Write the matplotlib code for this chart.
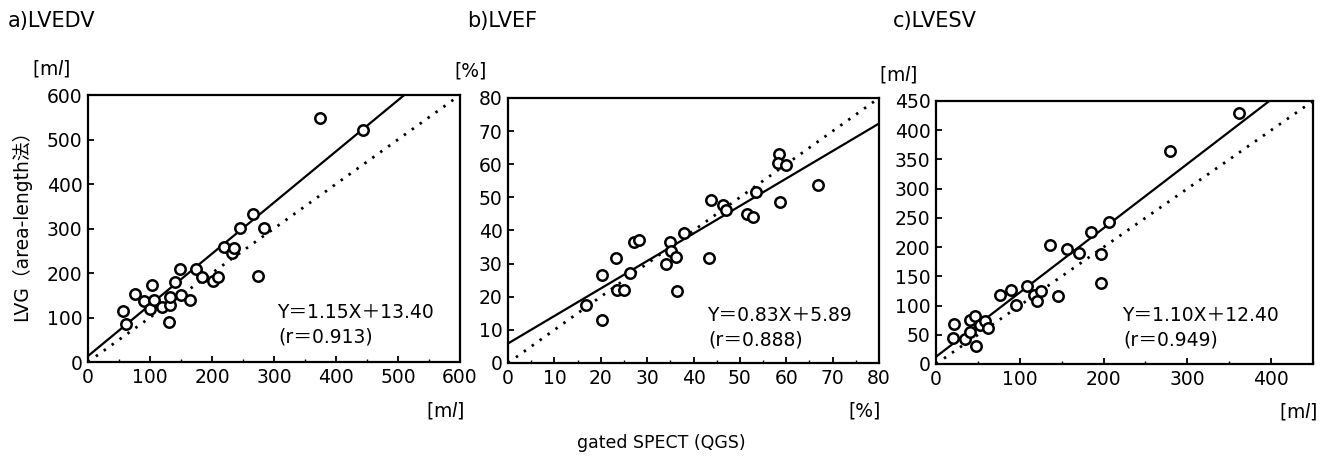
import numpy as np
import matplotlib.pyplot as plt

plt.rcParams['font.family'] = ['DejaVu Sans', 'Noto Sans CJK JP']

# -----------------------------
# Data
# -----------------------------
# a) LVEDV [ml]
edv_x = [56, 62, 76, 90, 103, 100, 106, 120, 130, 133, 133, 141, 148, 150, 165,
         174, 184, 201, 209, 220, 233, 236, 245, 266, 274, 284, 374, 444]
edv_y = [115, 86, 152, 137, 173, 120, 140, 124, 90, 128, 145, 180, 209, 150, 140,
         209, 191, 182, 191, 259, 245, 257, 302, 332, 193, 302, 549, 521]
edv_fit = (1.15, 13.40)
edv_r = 0.913

# b) LVEF [%]
ef_x = [16.9, 20.2, 20.2, 23.2, 23.4, 25.1, 26.2, 27.1, 28.2, 34.1, 35.0, 35.1, 36.3,
        36.5, 37.9, 43.4, 43.8, 46.4, 46.9, 51.6, 52.9, 53.4, 58.4, 58.2, 60.0, 58.6, 66.8]
ef_y = [17.4, 26.7, 13.1, 31.7, 22.1, 21.9, 27.2, 36.4, 37.2, 30.0, 36.4, 33.7, 32.0,
        21.6, 39.2, 31.7, 49.1, 47.8, 46.3, 45.1, 44.1, 51.6, 63.1, 60.4, 59.9, 48.6, 53.6]
ef_fit = (0.83, 5.89)
ef_r = 0.888

# c) LVESV [ml]
esv_x = [22, 20, 35, 40, 41, 46, 48, 52, 59, 62, 76, 89, 95, 108, 117, 121, 125,
         146, 136, 156, 171, 185, 197, 197, 206, 279, 361]
esv_y = [68, 44, 42, 75, 55, 82, 31, 67, 74, 62, 118, 126, 101, 134, 118, 107, 125,
         117, 203, 197, 190, 225, 189, 139, 243, 364, 429]
esv_fit = (1.10, 12.40)
esv_r = 0.949

unit_ml = r'[m$\mathit{l}$]'

panels = [
    # title, x, y, fit, r, xmax, xstep, ymax, ystep, unit, axes rect, title x, eq pos
    ('a)LVEDV', edv_x, edv_y, edv_fit, edv_r, 600, 100, 600, 100, unit_ml,
     [0.0665, 0.2113, 0.2812, 0.5817], 0.006, (0.508, 0.187)),
    ('b)LVEF', ef_x, ef_y, ef_fit, ef_r, 80, 10, 80, 10, '[%]',
     [0.384, 0.2092, 0.2804, 0.5773], 0.353, (0.536, 0.18)),
    ('c)LVESV', esv_x, esv_y, esv_fit, esv_r, 450, 100, 450, 50, unit_ml,
     [0.7075, 0.207, 0.285, 0.573], 0.675, (0.493, 0.186)),
]

fig = plt.figure(figsize=(13.23, 4.59), dpi=100)

for (title, xs, ys, fit, r, xmax, xstep, ymax, ystep, unit,
     rect, tx, eqpos) in panels:
    ax = fig.add_axes(rect)
    ax.set_xlim(0, xmax)
    ax.set_ylim(0, ymax)

    # identity line (dotted) and regression line (solid)
    xx = np.array([0, xmax])
    ax.plot(xx, xx, color='black', lw=2.0, linestyle=(0, (0.9, 2.6)))
    ax.plot(xx, fit[0] * xx + fit[1], color='black', lw=1.6)

    ax.plot(xs, ys, 'o', ms=7.5, mfc='white', mec='black', mew=1.8)

    ax.set_xticks(np.arange(0, xmax + 1, xstep))
    ax.set_yticks(np.arange(0, ymax + 1, ystep))
    ax.set_xticks(np.arange(0, xmax + 1, xstep / 2), minor=True)
    ax.tick_params(direction='in', length=4, width=1.3, labelsize=13.5, pad=4)
    ax.tick_params(which='minor', direction='in', length=2.5, width=1.0)
    for sp in ax.spines.values():
        sp.set_linewidth(1.6)

    ax.text(eqpos[0], eqpos[1], 'Y＝%.2fX＋%.2f' % fit, transform=ax.transAxes,
            fontsize=13.5, va='center', ha='left')
    ax.text(eqpos[0] + 0.005, eqpos[1] - 0.095, '(r＝%.3f)' % r, transform=ax.transAxes,
            fontsize=13.5, va='center', ha='left')

    # units
    ax.text(-0.10, 1.10, unit, transform=ax.transAxes, fontsize=13.5,
            ha='center', va='center')
    ax.text(0.96, -0.18, unit, transform=ax.transAxes, fontsize=13.5,
            ha='center', va='center')

    fig.text(tx, 0.955, title, fontsize=15, ha='left', va='center')

fig.text(0.016, 0.52, 'LVG（area-length法）', rotation=90, fontsize=13.5,
         ha='center', va='center')
fig.text(0.5, 0.035, 'gated SPECT (QGS)', fontsize=12.5, ha='center', va='center')

fig.savefig('out.png', dpi=100)
